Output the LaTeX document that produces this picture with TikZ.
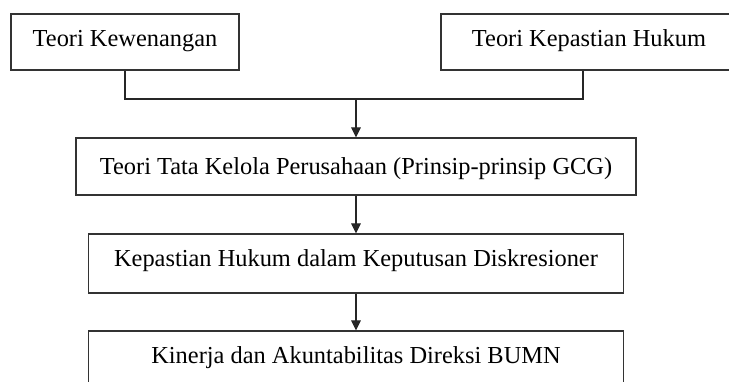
\documentclass[tikz,border=0pt]{standalone}
\usepackage{fontspec}
\setmainfont{Liberation Serif}
\usetikzlibrary{arrows.meta}

\begin{document}
\begin{tikzpicture}[x=0.5pt, y=-0.5pt,
    kotak/.style={draw=black!80, line width=0.65pt, inner sep=0pt,
        font=\fontsize{12.2}{14}\selectfont, text height=8.2pt},
    garis/.style={draw=black!85, line width=0.6pt},
    panah/.style={garis, -{Triangle[length=5pt, width=4.8pt]}}]
    % Batas gambar
    \useasboundingbox (0,0) rectangle (729,381);
    \clip (0,0) rectangle (729,381);

    % Kotak teori dasar
    \node[kotak, minimum width=114pt, minimum height=28pt, text depth=4.1pt] (kewenangan) at (125,42) {Teori Kewenangan};
    \node[kotak, minimum width=148pt, minimum height=28pt, text depth=4.1pt] (kepastian) at (589,42) {Teori Kepastian Hukum};

    % Kotak berikutnya
    \node[kotak, minimum width=280pt, minimum height=28.5pt, text depth=0.5pt] (tatakelola) at (356,166.5) {Teori Tata Kelola Perusahaan (Prinsip-prinsip GCG)};
    \node[kotak, minimum width=267.5pt, minimum height=29.5pt, text depth=5.6pt] (diskresi) at (356,263.5) {Kepastian Hukum dalam Keputusan Diskresioner};
    \node[kotak, minimum width=267.5pt, minimum height=30pt, text depth=6.1pt] (kinerja) at (356,361) {Kinerja dan Akuntabilitas Direksi BUMN};

    % Garis penghubung
    \coordinate (gabung) at (356,99);
    \coordinate (kanan) at (583,99);
    \draw[garis] (kewenangan.south) |- (kanan) -- (kanan |- kepastian.south);
    \draw[panah] (gabung) -- (tatakelola.north);
    \draw[panah] (tatakelola.south) -- (diskresi.north);
    \draw[panah] (diskresi.south) -- (kinerja.north);
\end{tikzpicture}
\end{document}
